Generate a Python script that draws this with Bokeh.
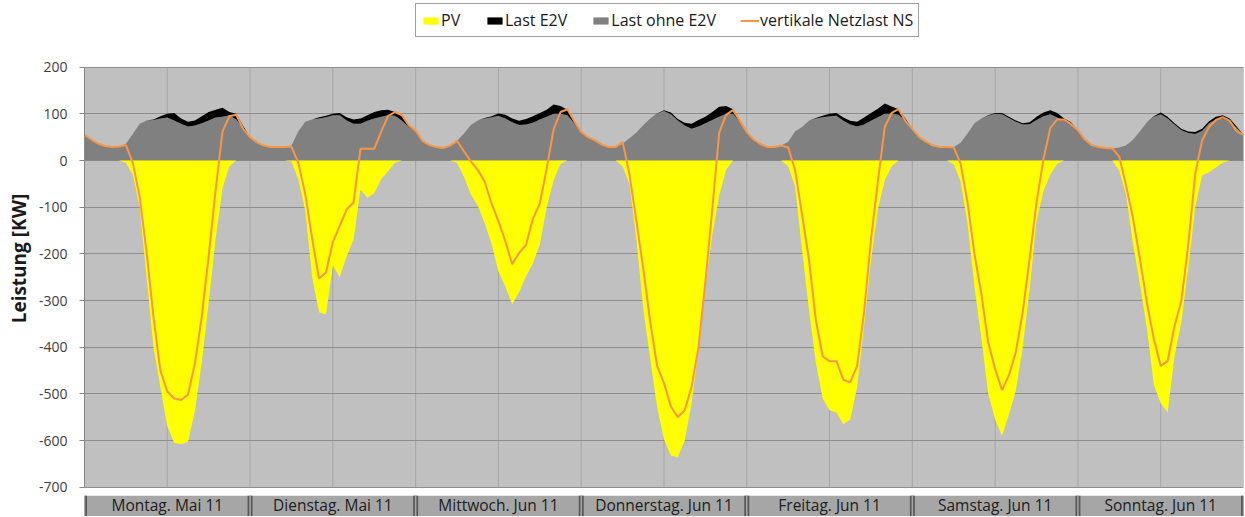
from bokeh.plotting import figure
from bokeh.models import ColumnDataSource, Range1d, FixedTicker, Legend, LegendItem, Title
from bokeh.embed import file_html
from bokeh.resources import INLINE
from bokeh.core.properties import value

# ---------------- data (hourly readings, Mon 00:00 .. Sun 24:00) ----------------
day_labels = ["Montag. Mai 11", "Dienstag. Mai 11", "Mittwoch. Jun 11", "Donnerstag. Jun 11",
              "Freitag. Jun 11", "Samstag. Jun 11", "Sonntag. Jun 11"]

hours = list(range(169))

last_ohne_e2v = [
    55, 45, 36, 31, 29, 30, 36, 57, 79, 86, 87, 90, 92, 86, 79, 73, 75, 80, 86, 92, 94, 97, 88, 70,
    50, 39, 32, 29, 29, 29, 32, 63, 83, 88, 90, 93, 97, 97, 86, 79, 79, 85, 90, 94, 97, 96, 86, 72,
    64, 42, 33, 29, 27, 32, 42, 58, 76, 86, 90, 93, 96, 90, 82, 76, 77, 81, 88, 94, 100, 100, 97, 80,
    61, 50, 43, 34, 29, 29, 36, 48, 60, 76, 90, 100, 106, 99, 86, 75, 68, 73, 80, 87, 94, 100, 100, 82,
    61, 45, 35, 29, 29, 32, 40, 62, 72, 85, 90, 93, 95, 96, 85, 77, 73, 77, 85, 93, 100, 101, 98, 85,
    68, 50, 40, 32, 29, 29, 29, 38, 58, 80, 90, 96, 100, 99, 91, 83, 77, 78, 87, 95, 99, 92, 86, 80,
    65, 45, 33, 29, 27, 26, 28, 33, 45, 63, 82, 94, 99, 90, 77, 65, 59, 57, 64, 80, 88, 90, 84, 70,
    55]

last_e2v = [
    0, 0, 0, 0, 0, 0, 0, 0, 0, 0, 1, 5, 8, 16, 11, 10, 11, 15, 18, 17, 19, 7, 12, 4,
    0, 0, 0, 0, 0, 0, 0, 0, 0, 0, 3, 3, 3, 5, 7, 9, 11, 12, 14, 14, 12, 8, 12, 4,
    0, 0, 0, 0, 0, 0, 0, 0, 0, 0, 1, 2, 5, 8, 8, 9, 12, 14, 14, 15, 20, 17, 12, 5,
    0, 0, 0, 0, 0, 0, 0, 0, 0, 0, 0, 1, 2, 4, 3, 6, 11, 14, 14, 17, 21, 17, 10, 3,
    0, 0, 0, 0, 0, 0, 0, 0, 0, 0, 1, 3, 5, 6, 7, 8, 10, 15, 17, 18, 22, 15, 12, 5,
    0, 0, 0, 0, 0, 0, 0, 0, 0, 0, 0, 1, 2, 3, 3, 3, 3, 4, 7, 8, 9, 10, 4, 2,
    0, 0, 0, 0, 0, 0, 0, 0, 0, 0, 0, 1, 4, 4, 3, 3, 3, 4, 4, 4, 6, 7, 6, 3,
    0]

pv = [
    0, 0, 0, 0, 0, 0, -5, -30, -100, -250, -400, -485, -570, -605, -608, -603, -537, -433, -305, -168, -60, -12, 0, 0,
    0, 0, 0, 0, 0, 0, -2, -40, -107, -250, -325, -330, -225, -250, -205, -170, -62, -80, -70, -40, -23, -5, 0, 0,
    0, 0, 0, 0, 0, 0, -5, -35, -73, -97, -134, -178, -238, -270, -308, -282, -248, -220, -180, -100, -42, -7, 0, 0,
    0, 0, 0, 0, 0, 0, -12, -50, -170, -318, -425, -528, -597, -632, -636, -600, -520, -405, -270, -160, -75, -20, 0, 0,
    0, 0, 0, 0, 0, 0, -12, -55, -190, -318, -432, -510, -535, -540, -565, -555, -485, -355, -215, -105, -42, -12, 0, 0,
    0, 0, 0, 0, 0, 0, -8, -45, -135, -270, -380, -500, -555, -590, -545, -493, -400, -275, -130, -65, -30, -7, 0, 0,
    0, 0, 0, 0, 0, 0, -22, -75, -180, -265, -360, -480, -520, -540, -420, -345, -230, -100, -32, -25, -15, -4, 0, 0,
    0]

netzlast_ns = [
    55, 45, 36, 31, 29, 30, 33, -5, -78, -197, -335, -450, -495, -510, -513, -502, -435, -335, -205, -65, 62, 95, 98, 68,
    50, 39, 32, 29, 29, 29, 30, -5, -72, -167, -253, -240, -175, -140, -105, -90, 25, 25, 25, 62, 95, 104, 97, 75,
    64, 42, 33, 29, 27, 32, 42, 20, -2, -20, -45, -92, -130, -173, -222, -198, -181, -125, -92, -17, 67, 104, 110, 84,
    61, 50, 43, 34, 29, 29, 40, -30, -130, -232, -345, -440, -477, -527, -550, -535, -485, -400, -260, -105, 60, 98, 108, 85,
    61, 45, 35, 29, 29, 32, 28, -20, -115, -210, -340, -420, -430, -430, -470, -475, -440, -325, -170, -45, 72, 102, 110, 85,
    68, 50, 40, 32, 29, 29, 28, -7, -90, -200, -285, -390, -447, -492, -460, -410, -325, -210, -90, 3, 70, 88, 88, 78,
    65, 45, 33, 29, 27, 26, 8, -55, -125, -212, -305, -382, -440, -430, -355, -300, -180, -29, 43, 72, 87, 93, 85, 63,
    55]

series_names = ["PV", "Last E2V", "Last ohne E2V", "vertikale Netzlast NS"]
y_ticks = [-700, -600, -500, -400, -300, -200, -100, 0, 100, 200]
hours_per_day = 24
n_days = len(day_labels)
total_hours = hours_per_day * n_days
x_grid_ticks = list(range(0, total_hours + 1, 12))

# ---------------- styling / layout ----------------
FONT = "Open Sans"
C_PV = "#ffff00"
C_E2V = "#000000"
C_LAST = "#808080"
C_NS = "#f79646"
C_BG = "#c0c0c0"
C_BOX = "#a6a6a6"
W, H = 1244, 516
LEFT, RIGHT = 82, 1
TOP_PX = 66.7                    # white band above the value area (legend lives here)
PLOT_PX = 420                    # pixel height of the -700..200 value area
STRIP_PX = H - TOP_PX - PLOT_PX  # category strip below the value area
GAP_PX = 8.5                     # white gap between plot area and category boxes
upp = (y_ticks[-1] - y_ticks[0]) / PLOT_PX   # data units per pixel
y_high = y_ticks[-1] + TOP_PX * upp
y_low = y_ticks[0] - STRIP_PX * upp
y_box_top = y_ticks[0] - GAP_PX * upp
y_text = y_ticks[0] - 17.5 * upp

p = figure(width=W, height=H, x_range=Range1d(0, total_hours), y_range=Range1d(y_low, y_high),
           x_axis_type=None, toolbar_location=None, output_backend="svg",
           min_border_left=LEFT, min_border_right=RIGHT, min_border_top=0, min_border_bottom=0)
p.background_fill_color = "white"
p.border_fill_color = "white"
p.outline_line_color = None

# plot-area background and vertical grid lines
p.quad(left=[0], right=[total_hours], bottom=[y_ticks[0]], top=[y_ticks[-1]],
       fill_color=C_BG, line_color=None, level="image")
p.segment(x0=x_grid_ticks, y0=y_ticks[0], x1=x_grid_ticks, y1=y_ticks[-1],
          line_color="#a6a6a6", line_width=1, level="underlay")

# value areas and line
src = ColumnDataSource(dict(h=hours, last=last_ohne_e2v, e2v=last_e2v, pv=pv, ns=netzlast_ns))
r_last, r_e2v = p.varea_stack(["last", "e2v"], x="h", color=[C_LAST, C_E2V], source=src)
r_pv = p.varea(x="h", y1=0, y2="pv", fill_color=C_PV, source=src)
r_ns = p.line(x="h", y="ns", line_color=C_NS, line_width=2, source=src)

# category strip (below the value area)
starts = [d * hours_per_day for d in range(n_days)]
ends = [s + hours_per_day for s in starts]
centers = [s + hours_per_day / 2 for s in starts]
seps = starts + [total_hours]
p.quad(left=starts, right=ends, bottom=y_low, top=y_box_top, fill_color=C_BOX, line_color=None)
p.segment(x0=seps, y0=y_low, x1=seps, y1=y_box_top, line_color="#595959", line_width=5)
p.segment(x0=seps, y0=y_low, x1=seps, y1=y_box_top, line_color=C_BOX, line_width=1.5)
p.text(x=centers, y=y_text, text=day_labels, text_align="center", text_baseline="middle",
       text_font=value(FONT), text_font_size="15.5px", text_color="#202020")

# y axis and horizontal grid
yax = p.yaxis[0]
yax.ticker = FixedTicker(ticks=y_ticks)
yax.bounds = (y_ticks[0], y_ticks[-1])
yax.major_label_overrides = {t: str(t) for t in y_ticks}
yax.axis_line_color = "#868686"
yax.major_tick_line_color = "#868686"
yax.major_tick_out = 5
yax.major_tick_in = 0
yax.minor_tick_line_color = None
yax.major_label_text_font = FONT
yax.major_label_text_font_size = "14px"
yax.major_label_text_color = "#404040"
yax.major_label_standoff = 12
p.ygrid.ticker = FixedTicker(ticks=y_ticks)
p.ygrid.grid_line_color = "#8f8f8f"

# y-axis title as a left-side title (centred a little above the frame centre, like the reference)
p.add_layout(Title(text="Leistung [KW]", align="center", offset=3, standoff=7,
                   text_font=FONT, text_font_style="bold", text_font_size="19px", text_color="#1a1a1a"), "left")

# legend in the white band above the value area
legend = Legend(
    items=[LegendItem(label=value(n), renderers=[r]) for n, r in zip(series_names, [r_pv, r_e2v, r_last, r_ns])],
    orientation="horizontal", location=(331, H - 37), padding=5, margin=0, spacing=24,
    label_standoff=1, glyph_width=19, glyph_height=9, label_height=19,
    border_line_color="#404040", border_line_width=1, background_fill_color="white", background_fill_alpha=1,
    label_text_font=FONT, label_text_font_size="16px", label_text_color="#1a1a1a")
p.add_layout(legend)

open("out.html", "w").write(file_html(p, INLINE))
